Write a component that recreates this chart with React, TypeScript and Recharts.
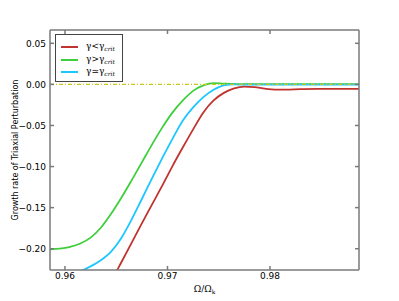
import React from "react";
import { LineChart, Line, XAxis, YAxis, ReferenceLine } from "recharts";

// Omega / Omega_k sample points
const omega = [
  0.9585, 0.9595, 0.9605, 0.9615, 0.9625, 0.9635, 0.9645, 0.9655, 0.9665, 0.9675,
  0.9685, 0.9695, 0.9705, 0.9715, 0.9725, 0.9735, 0.9745, 0.9755, 0.9765, 0.9775,
  0.9785, 0.9795, 0.9805, 0.9815, 0.983, 0.985, 0.987, 0.9887,
];

// gamma < gamma_crit
const growthBelow = [
  -0.3139, -0.3102, -0.3029, -0.292, -0.2774, -0.2603, -0.2397, -0.2165, -0.1928, -0.1691,
  -0.146, -0.1229, -0.0991, -0.0766, -0.0547, -0.0341, -0.0195, -0.0103, -0.0049, -0.0028,
  -0.0034, -0.0052, -0.0063, -0.0064, -0.0058, -0.0055, -0.0054, -0.0054,
];

// gamma > gamma_crit
const growthAbove = [
  -0.2007, -0.2, -0.1979, -0.1937, -0.1865, -0.1745, -0.1575, -0.138, -0.1168, -0.0949,
  -0.073, -0.0523, -0.0341, -0.0195, -0.0079, -0.0012, 0.0016, 0.001, 0.0005, 0.0004,
  0.0004, 0.0004, 0.0004, 0.0004, 0.0004, 0.0004, 0.0004, 0.0004,
];

// gamma ~ gamma_crit
const growthCrit = [
  -0.2385, -0.236, -0.2325, -0.2275, -0.2215, -0.214, -0.2035, -0.187, -0.1645, -0.1395,
  -0.114, -0.0895, -0.066, -0.044, -0.028, -0.0155, -0.0066, -0.0012, 0.0, -0.0004,
  -0.0004, -0.0004, -0.0004, -0.0004, -0.0004, -0.0004, -0.0004, -0.0004,
];

const xTicks = [0.96, 0.97, 0.98];
const yTicks = [-0.2, -0.15, -0.1, -0.05, 0, 0.05];
const xDomain = [0.95854, 0.98868];
const yDomain = [-0.2259, 0.0662];

const seriesKeys = ["below", "above", "crit"];
const seriesRelations = ["<", ">", "≃"];
const seriesColors = ["#c0332e", "#3fcf3c", "#1ec6ff"];

const data = omega.map((x, i) => ({
  x,
  below: growthBelow[i],
  above: growthAbove[i],
  crit: growthCrit[i],
}));

const frame = "#7a7a7a";
const tickFont = { fontSize: 9, fill: "#000", fontFamily: "DejaVu Sans" };
const fmt = (v: number) => (v < 0 ? "\u2212" : "") + Math.abs(v).toFixed(2);

const Legend = () => (
  <div
    style={{
      position: "absolute",
      left: 55,
      top: 34,
      width: 66,
      height: 46,
      border: "1px solid #444",
      background: "#fff",
      fontFamily: "DejaVu Serif",
      fontSize: 9,
    }}
  >
    {seriesKeys.map((k, i) => (
      <div key={k} style={{ position: "absolute", left: 0, top: 5 + i * 12.5, height: 12, width: 66 }}>
        <div style={{ position: "absolute", left: 5, top: 6, width: 17, height: 2, background: seriesColors[i] }} />
        <div style={{ position: "absolute", left: 30, top: 0, lineHeight: "12px", whiteSpace: "nowrap" }}>
          γ{seriesRelations[i]}γ<sub style={{ fontSize: 6, fontStyle: "italic", verticalAlign: "-2px" }}>crit</sub>
        </div>
      </div>
    ))}
  </div>
);

export default function App() {
  return (
    <div style={{ position: "absolute", left: 0, top: 0, width: 399, height: 301, background: "#fff" }}>
      <LineChart width={399} height={301} data={data} margin={{ top: 29, right: 39, bottom: 0, left: 0 }}>
        <XAxis
          dataKey="x"
          type="number"
          domain={xDomain}
          ticks={xTicks}
          allowDataOverflow
          height={31}
          tickSize={-4}
          tickMargin={7}
          tickFormatter={(v: number) => v.toFixed(2)}
          tick={tickFont}
          stroke={frame}
          strokeWidth={1.5}
          label={{
            content: ({ viewBox }: any) => (
              <text
                x={viewBox.x + viewBox.width / 2}
                y={viewBox.y + 22}
                textAnchor="middle"
                fontFamily="DejaVu Serif"
                fontSize={9}
                fill="#000"
              >
                Ω/Ω<tspan fontSize={6} dy={2}>k</tspan>
              </text>
            ),
          }}
        />
        <XAxis
          xAxisId="top"
          orientation="top"
          dataKey="x"
          type="number"
          domain={xDomain}
          ticks={xTicks}
          allowDataOverflow
          height={1}
          tickSize={-4}
          tickFormatter={() => ""}
          stroke={frame}
          strokeWidth={1.5}
        />
        <YAxis
          type="number"
          domain={yDomain}
          ticks={yTicks}
          allowDataOverflow
          width={50}
          tickSize={-4}
          tickMargin={8}
          tickFormatter={fmt}
          tick={tickFont}
          stroke={frame}
          strokeWidth={1.5}
          label={{
            content: ({ viewBox }: any) => {
              const cx = 15;
              const cy = viewBox.y + viewBox.height / 2;
              return (
                <text
                  x={cx}
                  y={cy}
                  transform={`rotate(-90 ${cx} ${cy})`}
                  textAnchor="middle"
                  dominantBaseline="central"
                  fontFamily="DejaVu Sans"
                  fontSize={8}
                  fill="#000"
                >
                  Growth rate of Triaxial Perturbation
                </text>
              );
            },
          }}
        />
        <YAxis
          yAxisId="right"
          orientation="right"
          type="number"
          domain={yDomain}
          ticks={yTicks}
          allowDataOverflow
          width={1}
          tickSize={-4}
          tickFormatter={() => ""}
          stroke={frame}
          strokeWidth={1.5}
        />
        {seriesKeys.map((k, i) => (
          <Line
            key={k}
            dataKey={k}
            type="monotone"
            stroke={seriesColors[i]}
            strokeWidth={1.8}
            dot={false}
            activeDot={false}
            isAnimationActive={false}
          />
        ))}
        <ReferenceLine y={0} stroke="#c8c81e" strokeWidth={1.2} strokeDasharray="4 2 1 2" />
      </LineChart>
      <Legend />
    </div>
  );
}
